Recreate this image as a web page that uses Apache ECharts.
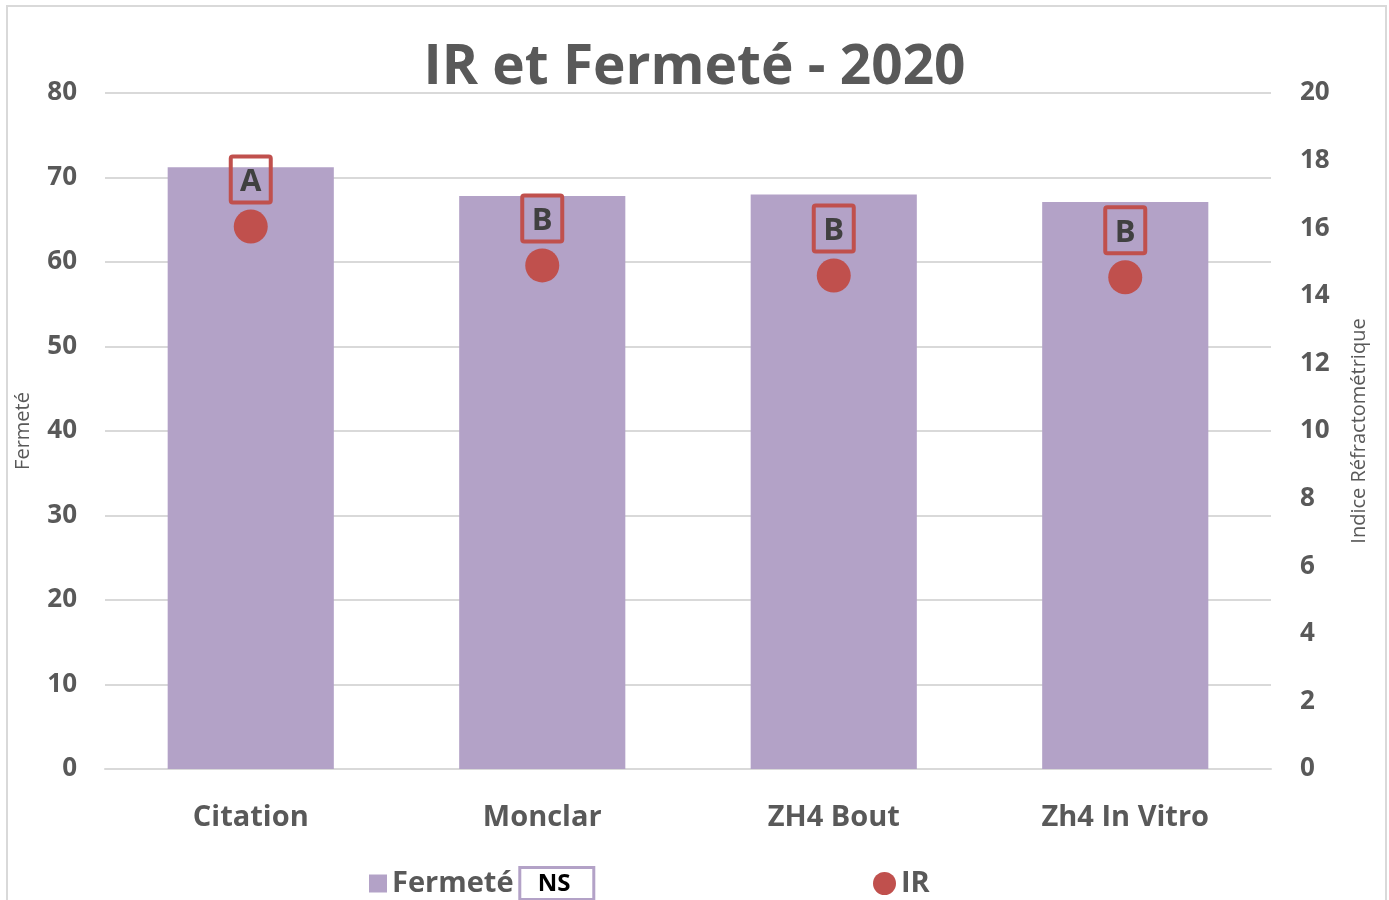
<!DOCTYPE html>
<html>
<head>
<meta charset="utf-8">
<script src="https://cdn.jsdelivr.net/npm/echarts@6/dist/echarts.min.js"></script>
<style>
  html, body { margin: 0; padding: 0; background: #fff; overflow: hidden; }
  #main { width: 1389px; height: 900px; }
</style>
</head>
<body>
<div id="main"></div>
<script>
// données
var categories = ['Citation', 'Monclar', 'ZH4 Bout', 'Zh4 In Vitro'];
var fermete = [71.2, 67.8, 68.0, 67.1];
var ir = [16.05, 14.9, 14.6, 14.55];
var groupes = ['A', 'B', 'B', 'B'];

var gris = '#595959';
var police = '"Open Sans", "Liberation Sans", sans-serif';

var myChart = echarts.init(document.getElementById('main'));
var opt = {
    textStyle: { fontFamily: police },
    animation: false,
    title: {
        text: 'IR et Fermeté - 2020',
        left: 'center',
        top: 36,
        textStyle: { fontSize: 55, fontWeight: 'bold', color: gris, fontFamily: police }
    },
    // cadre gris autour du graphique
    graphic: [{
        type: 'rect',
        shape: { x: 7, y: 6, width: 1379, height: 1000 },
        style: { fill: 'none', stroke: '#D9D9D9', lineWidth: 2 },
        silent: true
    }],
    legend: [{
        data: ['Fermeté'],
        left: 364,
        top: 861,
        icon: 'rect',
        itemWidth: 18,
        itemHeight: 18,
        itemGap: 10,
        formatter: function (name) {
            return '{a|' + name + '}  {b|NS}';
        },
        textStyle: {
            rich: {
                a: { fontSize: 29, fontWeight: 'bold', color: gris, fontFamily: police },
                b: {
                    fontSize: 24, fontWeight: 'bold', color: '#000', fontFamily: police,
                    borderColor: '#B3A2C7', borderWidth: 3,
                    padding: [2, 18, 0, 18], width: 38, height: 30
                }
            }
        }
    }, {
        data: ['IR'],
        left: 868,
        top: 864,
        icon: 'circle',
        itemWidth: 23,
        itemHeight: 23,
        itemGap: 6,
        textStyle: { fontSize: 29, fontWeight: 'bold', color: gris, fontFamily: police }
    }],
    grid: { left: 105, right: 118, top: 93, bottom: 131 },
    xAxis: {
        type: 'category',
        data: categories,
        axisLine: { lineStyle: { color: '#D9D9D9', width: 2 } },
        axisTick: { show: false },
        axisLabel: { fontSize: 29, fontWeight: 'bold', color: gris, margin: 34, fontFamily: police }
    },
    yAxis: [{
        type: 'value',
        min: 0, max: 80, interval: 10,
        name: 'Fermeté',
        nameLocation: 'middle',
        nameGap: 72,
        nameTextStyle: { fontSize: 20, color: gris, fontFamily: police },
        axisLine: { show: false },
        axisTick: { show: false },
        splitLine: { lineStyle: { color: '#D9D9D9', width: 2 } },
        axisLabel: { fontSize: 26, fontWeight: 'bold', color: gris, margin: 28, fontFamily: police }
    }, {
        type: 'value',
        min: 0, max: 20, interval: 2,
        name: 'Indice Réfractométrique',
        nameLocation: 'middle',
        nameGap: 78,
        nameTextStyle: { fontSize: 20, color: gris, fontFamily: police },
        axisLine: { show: false },
        axisTick: { show: false },
        splitLine: { show: false },
        axisLabel: { fontSize: 26, fontWeight: 'bold', color: gris, margin: 29, fontFamily: police }
    }],
    series: [{
        name: 'Fermeté',
        type: 'bar',
        data: fermete,
        barWidth: '57%',
        itemStyle: { color: '#B3A2C7' }
    }, {
        name: 'IR',
        type: 'scatter',
        yAxisIndex: 1,
        data: ir,
        symbolSize: 34,
        itemStyle: { color: '#C0504D', opacity: 1 },
        label: {
            show: true,
            position: 'top',
            distance: 7,
            formatter: function (p) { return groupes[p.dataIndex]; },
            fontSize: 31,
            fontWeight: 'bold',
            color: '#404040',
            fontFamily: police,
            borderColor: '#C0504D',
            borderWidth: 4,
            borderRadius: 2,
            padding: [6, 6, 0, 6],
            width: 28,
            height: 40,
            align: 'center',
            lineHeight: 40
        }
    }]
};
myChart.setOption(opt);
</script>
</body>
</html>
